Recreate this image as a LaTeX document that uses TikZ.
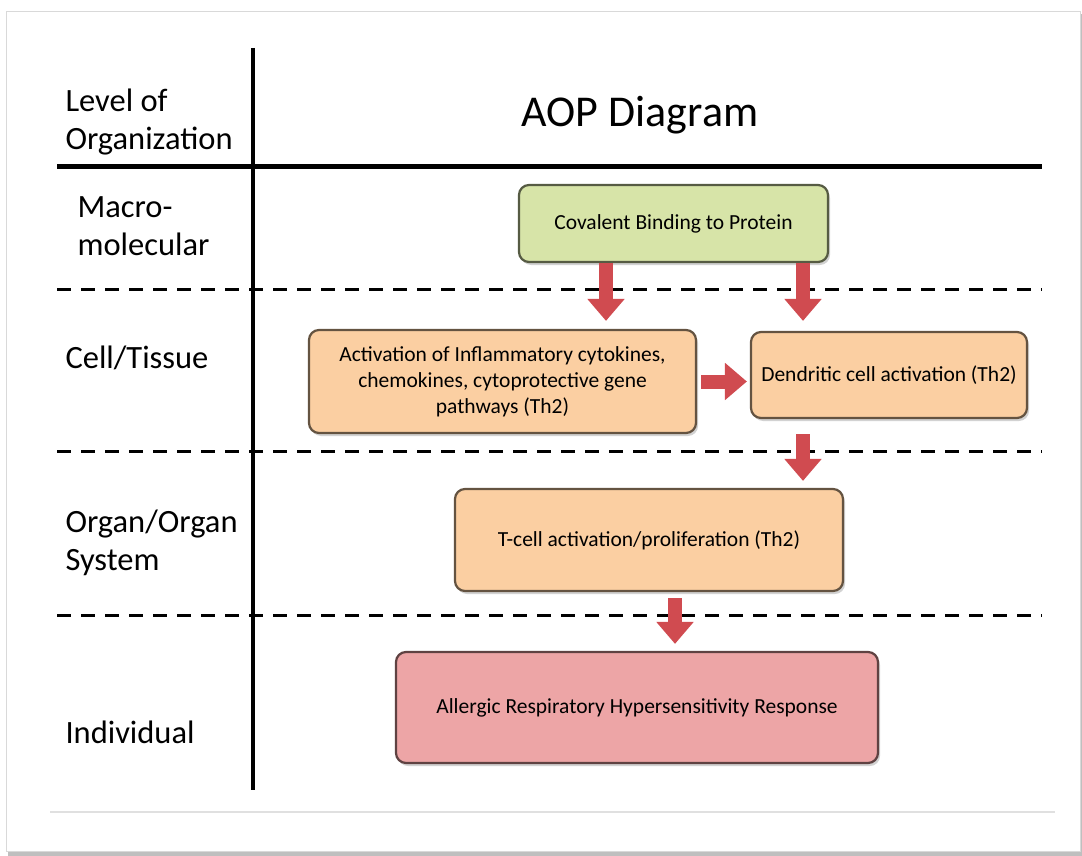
\documentclass[tikz,border=0pt]{standalone}
\usepackage{fontspec}
\setmainfont{Carlito}
\usetikzlibrary{arrows.meta,shadows}

\definecolor{miegreen}{HTML}{D7E4A8}
\definecolor{keorange}{HTML}{FBCFA2}
\definecolor{aored}{HTML}{EDA5A6}
\definecolor{arrowred}{HTML}{D04B50}

\tikzset{
  event/.style={rounded corners=10pt, line width=2.2pt, align=center,
    font=\fontsize{21.5}{26}\selectfont,
    drop shadow={shadow xshift=2pt, shadow yshift=-3pt, opacity=0.35}},
  level/.style={anchor=west, align=left, font=\fontsize{32.5}{38}\selectfont},
  flow/.style={draw=arrowred, line width=14pt,
    -{Triangle[width=36pt,length=22pt]}},
  divider/.style={line width=3pt, dash pattern=on 14pt off 10pt}
}

\begin{document}
\begin{tikzpicture}[x=1pt,y=-1pt]
\useasboundingbox (0,0) rectangle (1082,856);
\fill[black!25] (8,14) rectangle (1082,856);
\fill[white] (6,11) rectangle (1080,851);
\draw[black!15] (6,11) rectangle (1080,851);
\draw[black!12, line width=1.5pt] (50,812) -- (1055,812);

% grid of the table
\draw[line width=3.5pt] (253,48) -- (253,790);
\draw[line width=5pt] (57,167) -- (1042,167);
\draw[divider] (57,289) -- (1042,289);
\draw[divider] (57,451) -- (1042,451);
\draw[divider] (57,615) -- (1042,615);

% headings
\node[level] (lvl) at (62,122) {Level of\\Organization};
\node[font=\fontsize{44}{50}\selectfont] (title) at (640,115) {AOP Diagram};
\node[level] (macro) at (74,226) {Macro-\\molecular};
\node[level] (cell) at (62,358) {Cell/Tissue};
\node[level] (organ) at (62,543) {Organ/Organ\\System};
\node[level] (indiv) at (62,732) {Individual};

% events
\node[event, fill=miegreen, draw=black!60!miegreen, minimum width=309pt, minimum height=77pt] (MIE) at (673.5,223.5) {Covalent Binding to Protein};
\node[event, fill=keorange, draw=black!60!keorange, minimum width=387pt, minimum height=103pt] (KE1) at (502.5,381.5) {Activation of Inflammatory cytokines,\\chemokines, cytoprotective gene\\pathways (Th2)};
\node[event, fill=keorange, draw=black!60!keorange, minimum width=276pt, minimum height=86pt] (KE2) at (889,375) {Dendritic cell activation (Th2)};
\node[event, fill=keorange, draw=black!60!keorange, minimum width=388pt, minimum height=102pt] (KE3) at (649,540) {T-cell activation/proliferation (Th2)};
\node[event, fill=aored, draw=black!60!aored, minimum width=482pt, minimum height=111pt] (AO) at (637,707.5) {Allergic Respiratory Hypersensitivity Response};

% arrows
\draw[flow] ([xshift=-67.5pt]MIE.south) -- ([xshift=-67.5pt,yshift=8pt]MIE.south |- KE1.north);
\draw[flow] ([xshift=129.5pt]MIE.south) -- ([xshift=129.5pt,yshift=10pt]MIE.south |- KE2.north);
\draw[flow] ([xshift=4pt]KE1.east) -- ([xshift=-3pt]KE1.east -| KE2.west);
\draw[flow] ([xshift=-86pt,yshift=-15pt]KE2.south) -- ([xshift=-86pt,yshift=7pt]KE2.south |- KE3.north);
\draw[flow] ([xshift=26pt,yshift=-6pt]KE3.south) -- ([xshift=26pt,yshift=7pt]KE3.south |- AO.north);
\end{tikzpicture}
\end{document}
